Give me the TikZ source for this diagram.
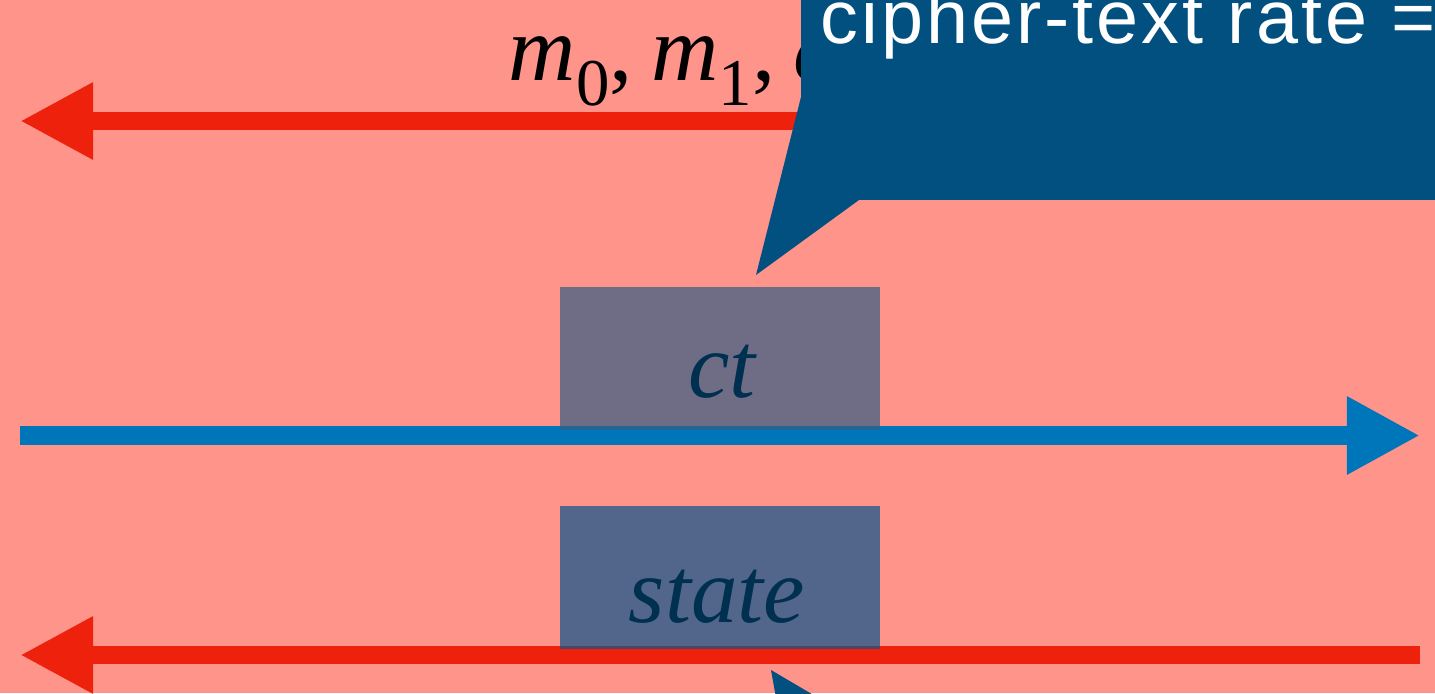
\documentclass[tikz,border=0pt]{standalone}
\usepackage{fontspec}
\setmainfont{Liberation Serif}
\newfontfamily\calloutfont[LetterSpace=4]{Liberation Sans}
\usetikzlibrary{arrows.meta,positioning}

\definecolor{salmon}{HTML}{FF948A}
\definecolor{arrowred}{HTML}{EE220C}
\definecolor{arrowblue}{HTML}{0076BA}
\definecolor{calloutblue}{HTML}{02507F}
\definecolor{labelnavy}{HTML}{00304F}
\definecolor{ctshade}{RGB}{49,93,131}
\definecolor{stateshade}{RGB}{8,83,138}

\newcommand{\lowidx}[1]{\raisebox{-0.27em}{\fontsize{19}{19}\selectfont #1}}

\begin{document}
\begin{tikzpicture}[
        x=0.01cm,
        y=-0.01cm,
        flow/.style={
            line width=0.185cm
        },
        redflow/.style={
            flow,
            draw=arrowred,
            -{Triangle[length=0.73cm,width=0.72cm]}
        },
        blueflow/.style={
            flow,
            draw=arrowblue,
            -{Triangle[length=0.73cm,width=0.73cm]}
        },
        databox/.style={
            rectangle,
            draw=none,
            fill opacity=0.7,
            minimum width=3.2cm,
            minimum height=1.43cm,
            inner sep=0pt
        },
        boxlabel/.style={
            anchor=base,
            text=labelnavy,
            font=\fontsize{26.5}{30}\selectfont\itshape
        },
        callout/.style={
            fill=calloutblue,
            draw=none
        }
    ]

    % Frame and background
    \useasboundingbox (0,0) rectangle (1435,693);
    \clip (0,0) rectangle (1435,693);
    \fill[salmon] (0,0) rectangle (1435,693);

    % End points of the three flows
    \coordinate (topR) at (1420,121);
    \coordinate (topL) at (20,121);
    \coordinate (midL) at (20,435.5);
    \coordinate (midR) at (1420,435.5);
    \coordinate (lowR) at (1420,655);
    \coordinate (lowL) at (20,655);

    % Flows
    \draw[redflow] (topR) -- (topL);
    \draw[blueflow] (midL) -- (midR);
    \draw[redflow] (lowR) -- (lowL);

    % Shaded boxes
    \node[databox, fill=ctshade] (ctbox) at (720,358.5) {};
    \node[databox, fill=stateshade] (statebox) at (720,577.5) {};

    \node[boxlabel] (ctlabel) at (722,397) {ct};
    \node[boxlabel] (statelabel) at (717,622) {state};

    % Messages on the top flow
    \node[anchor=base west, inner sep=0pt,
          font=\fontsize{26.5}{30}\selectfont] (msgs) at (508,80)
        {\textit{m}\lowidx{0},\hspace{0.2em}\textit{m}\lowidx{1},\hspace{0.2em}\textit{c}};

    % Callout over the top flow
    \fill[callout] (801,-10) rectangle (1445,200);
    \fill[callout] (801,97) -- (756,275) -- (859,200) -- (801,200) -- cycle;
    \node[anchor=base west, inner sep=0pt, text=white,
          font=\calloutfont\fontsize{21.5}{24}\selectfont] (rate) at (820,43)
        {cipher-text rate =};

    % Pointer of a second callout below
    \fill[callout] (771,670) -- (780,720) -- (856,720) -- cycle;

\end{tikzpicture}
\end{document}
